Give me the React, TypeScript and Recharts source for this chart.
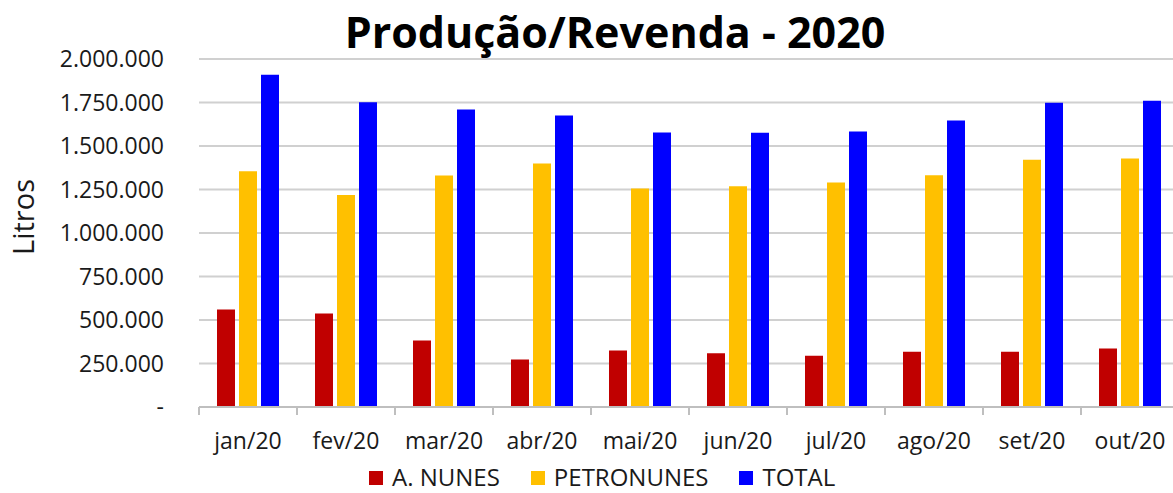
import { BarChart, Bar, XAxis, YAxis, CartesianGrid } from 'recharts';

const months = ['jan/20', 'fev/20', 'mar/20', 'abr/20', 'mai/20', 'jun/20', 'jul/20', 'ago/20', 'set/20', 'out/20'];
const aNunes = [560000, 537000, 382000, 273000, 325000, 309000, 294000, 317000, 317000, 336000];
const petronunes = [1355000, 1219000, 1330000, 1399000, 1256000, 1269000, 1290000, 1332000, 1421000, 1428000];
const total = [1909000, 1752000, 1710000, 1675000, 1578000, 1576000, 1583000, 1647000, 1748000, 1760000];
const yTicks = [0, 250000, 500000, 750000, 1000000, 1250000, 1500000, 1750000, 2000000];

const data = months.map((m, i) => ({ month: m, aNunes: aNunes[i], petronunes: petronunes[i], total: total[i] }));

const FONT = "'Open Sans', sans-serif";
const CHART_W = 1185;
const CHART_H = 493;
const Y_W = 199;
const MARGIN = { top: 59, right: 6, bottom: 0, left: 0 };
const BAND = (CHART_W - Y_W - MARGIN.left - MARGIN.right) / months.length;
const TICK_OFFSET = 26;

const fmt = (v: number) => (v === 0 ? '-' : String(v).replace(/\B(?=(\d{3})+(?!\d))/g, '.'));

const XTick = ({ x, y, payload, index }: any) => {
  const axisY = y - TICK_OFFSET;
  return (
    <g>
      <line x1={x - BAND / 2} x2={x - BAND / 2} y1={axisY} y2={axisY + 8} stroke="#bfbfbf" strokeWidth={2} />
      {index === months.length - 1 && (
        <line x1={x + BAND / 2} x2={x + BAND / 2} y1={axisY} y2={axisY + 8} stroke="#bfbfbf" strokeWidth={2} />
      )}
      <text x={x} y={y} dy="0.71em" textAnchor="middle" fill="#1a1a1a" fontSize={23} fontFamily={FONT}>
        {payload.value}
      </text>
    </g>
  );
};

const legendItems = [
  { label: 'A. NUNES', color: '#C00000' },
  { label: 'PETRONUNES', color: '#FFC000' },
  { label: 'TOTAL', color: '#0000FF' },
];

export default function App() {
  return (
    <div style={{ position: 'absolute', left: 0, top: 0, width: 1173, height: 493, overflow: 'hidden', background: '#fff', fontFamily: FONT }}>
      <div style={{ position: 'absolute', left: 615, top: 10, transform: 'translateX(-50%)', fontSize: 43, lineHeight: '43px', fontWeight: 700, color: '#000', whiteSpace: 'nowrap' }}>
        Produção/Revenda - 2020
      </div>
      <div style={{ position: 'absolute', left: 22, top: 217, transform: 'translate(-50%, -50%) rotate(-90deg)', fontSize: 29, lineHeight: '29px', color: '#1a1a1a', whiteSpace: 'nowrap' }}>
        Litros
      </div>
      <BarChart width={CHART_W} height={CHART_H} data={data} margin={MARGIN} barSize={18} barGap={4}>
        <CartesianGrid vertical={false} stroke="#d0d0d0" strokeWidth={2} />
        <XAxis
          dataKey="month"
          height={86}
          interval={0}
          tickLine={false}
          tickSize={0}
          tickMargin={TICK_OFFSET}
          axisLine={{ stroke: '#bfbfbf', strokeWidth: 2 }}
          tick={<XTick />}
        />
        <YAxis
          width={Y_W}
          domain={[0, 2000000]}
          ticks={yTicks}
          interval={0}
          axisLine={false}
          tickLine={false}
          tickSize={0}
          tickMargin={35}
          tickFormatter={fmt}
          tick={{ fill: '#1a1a1a', fontSize: 23, fontFamily: FONT }}
        />
        <Bar dataKey="aNunes" name="A. NUNES" fill="#C00000" isAnimationActive={false} />
        <Bar dataKey="petronunes" name="PETRONUNES" fill="#FFC000" isAnimationActive={false} />
        <Bar dataKey="total" name="TOTAL" fill="#0000FF" isAnimationActive={false} />
      </BarChart>
      <div style={{ position: 'absolute', left: 369, top: 460, display: 'flex', alignItems: 'center', fontSize: 24, lineHeight: '33px', color: '#1a1a1a' }}>
        {legendItems.map((it, i) => (
          <div key={it.label} style={{ display: 'flex', alignItems: 'center', marginRight: i < legendItems.length - 1 ? 31 : 0 }}>
            <div style={{ width: 14, height: 14, background: it.color, marginRight: 9, marginTop: 2 }} />
            <span>{it.label}</span>
          </div>
        ))}
      </div>
    </div>
  );
}
